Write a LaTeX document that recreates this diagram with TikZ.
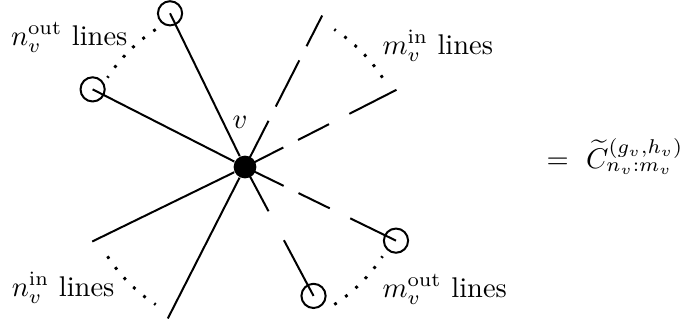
\documentclass[tikz,border=0pt]{standalone}
\usepackage{amsmath}
\usetikzlibrary{positioning}
\tikzset{
    vertex diagram/.style = {x=0.351pt, y=0.351pt},
    leg/.style            = {line width=0.7pt},
    vertex/.style         = {circle, fill, inner sep=0pt, minimum size=8pt},
    stub/.style           = {circle, draw, line width=0.7pt, inner sep=0pt,
                             minimum size=8.5pt},
    ellipsis/.style       = {line width=1pt, dash pattern=on 1pt off 3.7pt},
    count/.style          = {inner sep=0pt}
}
\def\longdash{on 18.2pt off 5.6pt}
\def\shortdash{on 15.1pt off 5.8pt on 12.2pt off 8pt on 30pt off 0pt}

\begin{document}
\begin{tikzpicture}[vertex diagram]
\useasboundingbox (-245,-156) rectangle (435,167);

\node[vertex] (v) at (0,0) {};
\node (v-label) at (-5,45) {$v$};

% Solid legs: outgoing ones end in a circle, incoming ones are free.
\foreach \name/\angle in {nout-a/116,nout-b/153} {
    \node[stub] (\name) at (\angle:171) {};
    \draw[leg] (v) -- (\name.center);
}
\foreach \name/\angle in {nin-a/206,nin-b/243} {
    \coordinate (\name) at (\angle:170);
    \draw[leg] (v) -- (\name);
}

% Dashed legs, measured from the centre of the vertex.
\foreach \name/\angle/\pattern in {min-a/63/\longdash,min-b/27/\shortdash} {
    \coordinate (\name) at (\angle:170);
    \draw[leg, dash pattern/.expanded=\pattern] (v.center) -- (\name);
}
\foreach \name/\angle/\radius/\pattern in {
    mout-a/-26/168/\shortdash,
    mout-b/-62/146/{on 17.6pt off 11.5pt on 30pt off 0pt}} {
    \node[stub] (\name) at (\angle:\radius) {};
    \draw[leg, dash pattern/.expanded=\pattern] (v.center) -- (\name.center);
}

% Dots between the first and last leg of each bundle.
\foreach \start in {33,123,213,303}
    \draw[ellipsis] ([shift={(\start:164)}]v.center)
        arc[start angle=\start, end angle=\start+24, radius=164];

\node[count, anchor=base east] (nout-label) at (-117,122) {$n_v^{\mathrm{out}}$ lines};
\node[count, anchor=base west] (min-label) at (137,113) {$m_v^{\mathrm{in}}$ lines};
\node[count, anchor=base east] (nin-label) at (-130,-129) {$n_v^{\mathrm{in}}$ lines};
\node[count, anchor=base west] (mout-label) at (137,-130) {$m_v^{\mathrm{out}}$ lines};

\node[count, anchor=base west] (amplitude) at (301,-1)
    {$=\ \widetilde{C}^{(g_v,h_v)}_{n_v:m_v}$};

\end{tikzpicture}
\end{document}
